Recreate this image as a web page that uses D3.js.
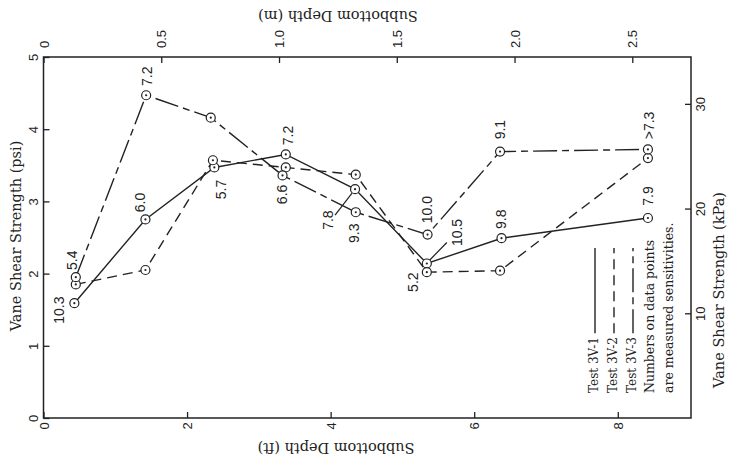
<!DOCTYPE html>
<html>
<head>
<meta charset="utf-8">
<script src="https://cdn.jsdelivr.net/npm/d3@7"></script>
<style>
  body { margin: 0; background: #fff; }
  svg { display: block; }
</style>
</head>
<body>
<svg id="chart" width="732" height="464"></svg>
<script>
// Subbottom depth (ft) of each vane reading
const depth3V1 = [0.43, 1.42, 2.38, 3.375, 4.34, 5.34, 6.38, 8.42];
const depth3V2 = [0.45, 1.42, 2.36, 3.375, 4.35, 5.34, 6.36, 8.42];
const depth3V3 = [0.45, 1.43, 2.33, 3.33, 4.35, 5.35, 6.36, 8.42];
// Vane shear strength (psi)
const psi3V1 = [1.59, 2.75, 3.47, 3.65, 3.17, 2.14, 2.49, 2.77];
const psi3V2 = [1.85, 2.05, 3.57, 3.47, 3.37, 2.02, 2.04, 3.60];
const psi3V3 = [1.95, 4.47, 4.16, 3.36, 2.85, 2.54, 3.69, 3.72];
// Measured sensitivities written beside the points ("" = none)
const sens3V1 = ["10.3", "6.0", "5.7", "7.2", "7.8", "10.5", "9.8", "7.9"];
const sens3V2 = ["", "", "", "", "", "5.2", "", ""];
const sens3V3 = ["5.4", "7.2", "", "6.6", "9.3", "10.0", "9.1", ">7.3"];
const seriesNames = ["Test 3V-1", "Test 3V-2", "Test 3V-3"];
const noteLines = ["Numbers on data points", "are measured sensitivities."];

// Axis ticks
const ftTicks = [0, 2, 4, 6, 8];
const psiTicks = [0, 1, 2, 3, 4, 5];
const mTicks = [0, 0.5, 1.0, 1.5, 2.0, 2.5];
const kpaTicks = [10, 20, 30];

const FT_TO_M = 0.3048;
const PSI_TO_KPA = 6.894757;

const series = [
  { name: seriesNames[0], depth: depth3V1, psi: psi3V1, sens: sens3V1, dash: null },
  { name: seriesNames[1], depth: depth3V2, psi: psi3V2, sens: sens3V2, dash: "10,6" },
  { name: seriesNames[2], depth: depth3V3, psi: psi3V3, sens: sens3V3, dash: "24,5,7,5" }
];

// ---- layout ----
const L = 43.5, R = 691, T = 57, B = 418;
const ftMax = 9.02;
const ink = "#222";
const serif = "'DejaVu Serif', serif";
const sans = "'Liberation Sans', Arial, sans-serif";

const svg = d3.select("#chart");

const x = d3.scaleLinear().domain([0, ftMax]).range([L, R]);
const xm = d3.scaleLinear().domain([0, ftMax * FT_TO_M]).range([L, R]);
const y = d3.scaleLinear().domain([0, 5]).range([B, T]);
const yk = d3.scaleLinear().domain([0, 5 * PSI_TO_KPA]).range([B, T]);

// tick labels are set sideways, reading upward
function styleAxis(g, tx, ty, anchor) {
  g.select(".domain").remove();
  g.selectAll(".tick line").attr("stroke", ink).attr("stroke-width", 1.3);
  g.selectAll(".tick text")
    .attr("x", 0).attr("y", 0).attr("dy", "0.35em")
    .attr("transform", `translate(${tx},${ty}) rotate(-90)`)
    .attr("text-anchor", anchor)
    .attr("fill", ink)
    .style("font-family", sans)
    .style("font-size", "13px");
}

const fmtM = d => d === 0 ? "0" : d3.format(".1f")(d);

svg.append("g").attr("transform", `translate(0,${B})`)
  .call(d3.axisBottom(x).tickValues(ftTicks).tickFormat(d3.format("d")).tickSizeInner(-6).tickSizeOuter(0))
  .call(g => styleAxis(g, 0, 8, "middle"));

svg.append("g").attr("transform", `translate(0,${T})`)
  .call(d3.axisTop(xm).tickValues(mTicks).tickFormat(fmtM).tickSizeInner(-6).tickSizeOuter(0))
  .call(g => styleAxis(g, 0, -9, "start"));

svg.append("g").attr("transform", `translate(${L},0)`)
  .call(d3.axisLeft(y).tickValues(psiTicks).tickFormat(d3.format("d")).tickSizeInner(-6).tickSizeOuter(0))
  .call(g => styleAxis(g, -10.5, 0, "middle"));

svg.append("g").attr("transform", `translate(${R},0)`)
  .call(d3.axisRight(yk).tickValues(kpaTicks).tickFormat(d3.format("d")).tickSizeInner(-6).tickSizeOuter(0))
  .call(g => styleAxis(g, 9, 0, "middle"));

// plot frame
svg.append("rect")
  .attr("x", L).attr("y", T).attr("width", R - L).attr("height", B - T)
  .attr("fill", "none").attr("stroke", ink).attr("stroke-width", 1.5);

// axis titles
function title(text, tx, ty, angle) {
  svg.append("text")
    .attr("transform", `translate(${tx},${ty}) rotate(${angle})`)
    .attr("text-anchor", "middle")
    .attr("fill", ink)
    .style("font-family", serif)
    .style("font-size", "14.5px")
    .text(text);
}
title("Vane Shear Strength (psi)", 20.5, 236, -90);
title("Vane Shear Strength (kPa)", 724, 290, -90);
title("Subbottom Depth (ft)", 336, 443, 180);
title("Subbottom Depth (m)", 338, 11, 180);

// curves
const line = d3.line().x(d => x(d.depth)).y(d => y(d.psi));
series.forEach(s => {
  s.points = s.depth.map((d, i) => ({ depth: d, psi: s.psi[i], sens: s.sens[i] }));
});

const plot = svg.append("g");
series.forEach(s => {
  plot.append("path")
    .datum(s.points)
    .attr("d", line)
    .attr("fill", "none")
    .attr("stroke", ink)
    .attr("stroke-width", 1.4)
    .attr("stroke-dasharray", s.dash);
});

// open circle markers with a centre dot
series.forEach(s => {
  const g = plot.append("g");
  g.selectAll("circle.ring").data(s.points).join("circle")
    .attr("class", "ring")
    .attr("cx", d => x(d.depth)).attr("cy", d => y(d.psi)).attr("r", 4.5)
    .attr("fill", "#fff").attr("stroke", ink).attr("stroke-width", 1.2);
  g.selectAll("circle.dot").data(s.points).join("circle")
    .attr("class", "dot")
    .attr("cx", d => x(d.depth)).attr("cy", d => y(d.psi)).attr("r", 1.1)
    .attr("fill", ink);
});

// sensitivity labels: offset of each label centre from its point
const labelPlacement = [
  [[-15, 7], [-5, -17], [7, 22], [2, -19], [-27, 31], [30, -31], [0, -19], [0, -22]],
  [null, null, null, null, null, [-14, 10], null, null],
  [[-4, -17], [1, -19], null, [0, 19], [-2, 21], [0, -25], [0, -22], [1, -24]]
];
// short leader strokes tying a label to its point: [series, point, from, to]
const leaders = [
  [0, 4, [-20, 26], [-3, 4]],
  [0, 5, [20, -21], [3, -3.5]]
];

series.forEach((s, si) => {
  s.points.forEach((p, pi) => {
    const off = labelPlacement[si][pi];
    if (!p.sens || !off) return;
    plot.append("text")
      .attr("transform", `translate(${x(p.depth) + off[0]},${y(p.psi) + off[1]}) rotate(-90)`)
      .attr("text-anchor", "middle")
      .attr("dy", "0.35em")
      .attr("fill", ink)
      .style("font-family", sans)
      .style("font-size", "14px")
      .text(p.sens);
  });
});

leaders.forEach(([si, pi, a, b]) => {
  const p = series[si].points[pi];
  plot.append("line")
    .attr("x1", x(p.depth) + a[0]).attr("y1", y(p.psi) + a[1])
    .attr("x2", x(p.depth) + b[0]).attr("y2", y(p.psi) + b[1])
    .attr("stroke", ink).attr("stroke-width", 1.2);
});

// legend, set sideways in the lower right corner
const legend = svg.append("g");
const legBase = 598, legStep = 19, legBottom = 393, legTop = 248;
series.forEach((s, i) => {
  const bx = legBase + i * legStep;
  const label = legend.append("text")
    .attr("transform", `translate(${bx},${legBottom}) rotate(-90)`)
    .attr("text-anchor", "start")
    .attr("fill", ink)
    .style("font-family", serif)
    .style("font-size", "12px")
    .text(s.name);
  // the sample stroke starts just past the end of its label
  const start = legBottom - label.node().getComputedTextLength() - 4;
  legend.append("line")
    .attr("x1", bx - 3).attr("x2", bx - 3)
    .attr("y1", start).attr("y2", legTop)
    .attr("stroke", ink).attr("stroke-width", 1.4)
    .attr("stroke-dasharray", s.dash);
});
noteLines.forEach((t, i) => {
  legend.append("text")
    .attr("transform", `translate(${legBase + (3 + i) * legStep - 1},${legBottom}) rotate(-90)`)
    .attr("text-anchor", "start")
    .attr("fill", ink)
    .style("font-family", serif)
    .style("font-size", "12.5px")
    .text(t);
});
</script>
</body>
</html>
